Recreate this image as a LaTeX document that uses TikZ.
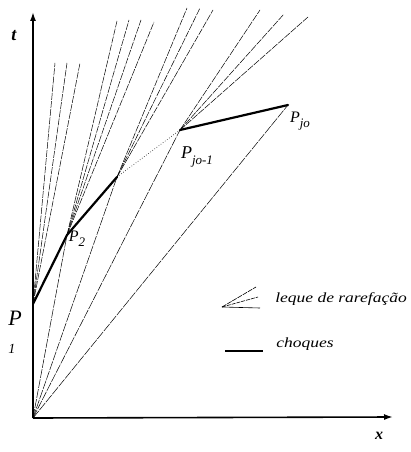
\documentclass[tikz,border=0pt]{standalone}
\usepackage{fontspec}
\setmainfont{Liberation Serif}
\usetikzlibrary{arrows.meta}
\begin{document}
\begin{tikzpicture}[x=1pt,y=-1pt,
  axis/.style={line width=1.6pt,-{Latex[length=9pt,width=6pt]}},
  shock/.style={line width=2.2pt,line cap=round},
  fanline/.style={line width=0.5pt,dash pattern=on 7pt off 1.2pt},
  ray/.style={line width=0.5pt,dash pattern=on 9pt off 1.2pt},
  dots/.style={line width=0.6pt,dotted},
  lab/.style={font=\itshape\fontsize{16}{16}\selectfont,inner sep=0pt},
  leg/.style={font=\itshape\fontsize{14}{14}\selectfont,inner sep=0pt,anchor=west,xscale=1.25}]
\useasboundingbox (0,0) rectangle (411,452);
% points
\coordinate (O) at (33,418);
\coordinate (P1) at (33,304);
\coordinate (P2) at (67,235);
\coordinate (P3) at (117,177);
\coordinate (Pj1) at (180,130);
\coordinate (Pj) at (288,105);
\coordinate (tt) at (33,12);
\coordinate (xx) at (393,417);
% rays from origin
\draw[ray] (O) -- (P2);
\draw[ray] (O) -- (P3);
\draw[ray] (O) -- (Pj1);
\draw[ray] (O) -- (Pj);
% fan at P1
\coordinate (f11) at (55,63);
\coordinate (f12) at (67,63);
\coordinate (f13) at (80,63);
\draw[fanline] (P1) -- (f11);
\draw[fanline] (P1) -- (f12);
\draw[fanline] (P1) -- (f13);
% fan at P2
\coordinate (f21) at (117,21);
\coordinate (f22) at (129,20);
\coordinate (f23) at (141,20);
\coordinate (f24) at (154,22);
\draw[fanline] (P2) -- (f21);
\draw[fanline] (P2) -- (f22);
\draw[fanline] (P2) -- (f23);
\draw[fanline] (P2) -- (f24);
% fan at P3
\coordinate (f31) at (187,8);
\coordinate (f32) at (200,8);
\coordinate (f33) at (213,10);
\draw[fanline] (P3) -- (f31);
\draw[fanline] (P3) -- (f32);
\draw[fanline] (P3) -- (f33);
% fan at Pjo-1
\coordinate (f41) at (260,10);
\coordinate (f42) at (284,14);
\coordinate (f43) at (308,17);
\draw[fanline] (Pj1) -- (f41);
\draw[fanline] (Pj1) -- (f42);
\draw[fanline] (Pj1) -- (f43);
% shocks
\draw[shock] (P1) -- (P2) -- (P3);
\draw[dots] (P3) -- (Pj1);
\draw[shock] (Pj1) -- (Pj);
% axes
\draw[axis] (O) -- (tt);
\draw[axis] (O) -- (xx);
% labels
\node[font=\bfseries\itshape\fontsize{18}{18}\selectfont,inner sep=0pt] (tl) at (14,36) {t};
\node[font=\bfseries\itshape\fontsize{16}{16}\selectfont,inner sep=0pt] (xl) at (379,436) {x};
\node[lab,font=\itshape\fontsize{22}{22}\selectfont] (l1) at (15,318) {P};
\node[font=\itshape\fontsize{14}{14}\selectfont,inner sep=0pt] (l1s) at (12,349) {1};
\node[lab] (l2) at (77,239) {P\raisebox{-0.3em}{\fontsize{13}{13}\selectfont 2}};
\node[lab,font=\itshape\fontsize{18}{18}\selectfont] (l3) at (197,157) {P\raisebox{-0.35em}{\fontsize{13}{13}\selectfont jo-1}};
\node[lab] (l4) at (300,121) {P\raisebox{-0.3em}{\fontsize{13}{13}\selectfont jo}};
% legend
\coordinate (la) at (222,307);
\coordinate (lb) at (256,287);
\coordinate (lc) at (258,297);
\coordinate (ld) at (260,308);
\draw[line width=0.6pt,dash pattern=on 5pt off 1pt] (la) -- (lb);
\draw[line width=0.6pt,dash pattern=on 4pt off 1pt] (la) -- (lc);
\draw[line width=0.6pt] (la) -- (ld);
\node[leg] (legfan) at (275,299) {leque de rarefação};
\coordinate (sa) at (225,351);
\coordinate (sb) at (263,351);
\draw[shock,line cap=butt] (sa) -- (sb);
\node[leg] (legsh) at (276,344) {choques};
\end{tikzpicture}
\end{document}
